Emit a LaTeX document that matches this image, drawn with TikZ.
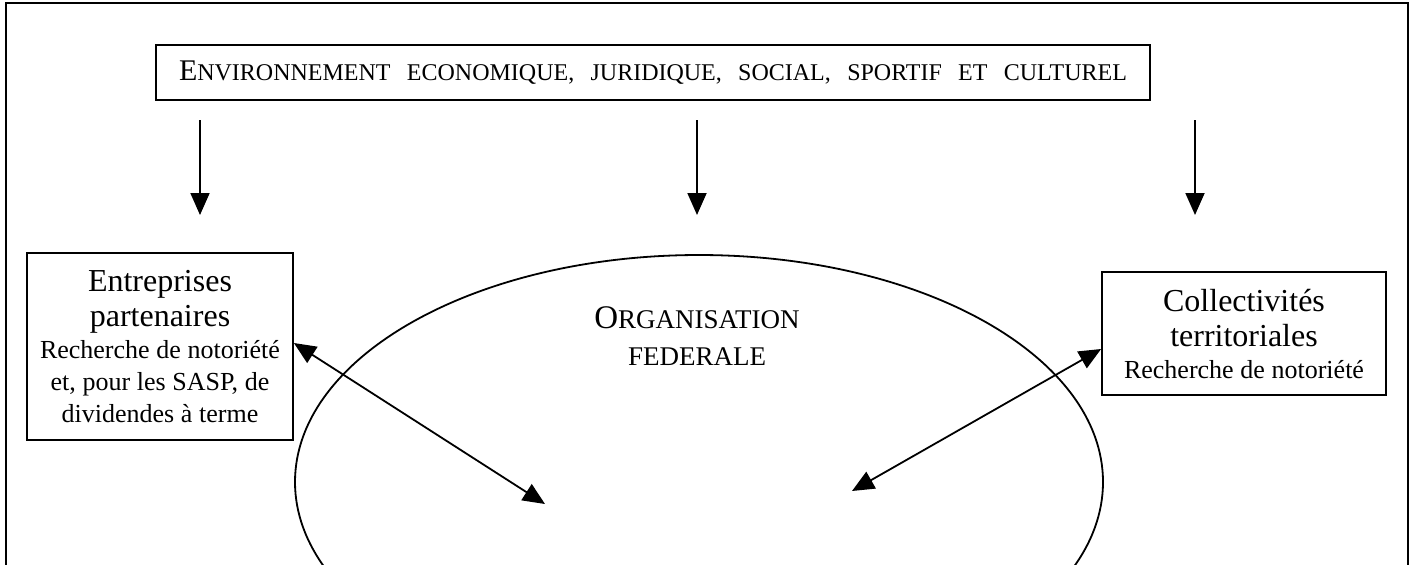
\documentclass[tikz,border=0pt]{standalone}
\usepackage{fontspec}
\setmainfont{Liberation Serif}
\usetikzlibrary{arrows.meta}

\newcommand{\bigtxt}{\fontsize{16}{17.5}\selectfont}
\newcommand{\smalltxt}{\fontsize{13}{16}\selectfont}
\newcommand{\capsw}[1]{{\fontsize{12}{14}\selectfont #1}}
\newcommand{\capsorg}[1]{{\fontsize{13.5}{16}\selectfont #1}}

\begin{document}
\begin{tikzpicture}[x=0.5pt, y=-0.5pt, line width=0.9pt,
  box/.style={draw, rectangle, inner sep=0pt, align=center},
  arr/.style={-{Triangle[length=11pt,width=9.5pt]}},
  darr/.style={{Triangle[length=11pt,width=9.5pt]}-{Triangle[length=11pt,width=9.5pt]}}]
\useasboundingbox (0,0) rectangle (1412,564);
% cadre
\draw (6,600)--(6,3)--(1408,3)--(1408,600);

\node[box, minimum width=497pt, minimum height=27.5pt, font=\fontsize{15}{17}\selectfont] (env) at (653,72.5)
  {\makebox[474pt][s]{E\capsw{NVIRONNEMENT ECONOMIQUE, JURIDIQUE, SOCIAL, SPORTIF ET CULTUREL}}};

\node[box, minimum width=133pt, minimum height=93.5pt, text width=131pt] (firms) at (160,346.5)
  {{\bigtxt Entreprises\\ partenaires\par}{\smalltxt Recherche de notoriété\\ et, pour les SASP, de\\ dividendes à terme\par}};
\node[box, minimum width=142pt, minimum height=61.5pt, text width=140pt] (coll) at (1244,333.5)
  {{\bigtxt Collectivités\\ territoriales\par}{\smalltxt Recherche de notoriété\par}};

\draw (699,482) ellipse (404 and 227);
\node[font=\fontsize{16.5}{18.5}\selectfont, align=center] (org) at (697,336)
  {O\capsorg{RGANISATION}\\ \capsorg{FEDERALE}};

% fleches du haut
\coordinate (t1) at (200,120);
\coordinate (t2) at (697,120);
\coordinate (t3) at (1195,120);
\coordinate (b1) at (200,215);
\coordinate (b2) at (697,215);
\coordinate (b3) at (1195,215);
\draw[arr] (t1)--(b1);
\draw[arr] (t2)--(b2);
\draw[arr] (t3)--(b3);

% fleches doubles
\coordinate (fin) at (545,504);
\coordinate (cin) at (852,491);
\draw[darr] ([yshift=1.75pt]firms.east)--(fin);
\draw[darr] ([yshift=-7.75pt]coll.west)--(cin);
\end{tikzpicture}
\end{document}
